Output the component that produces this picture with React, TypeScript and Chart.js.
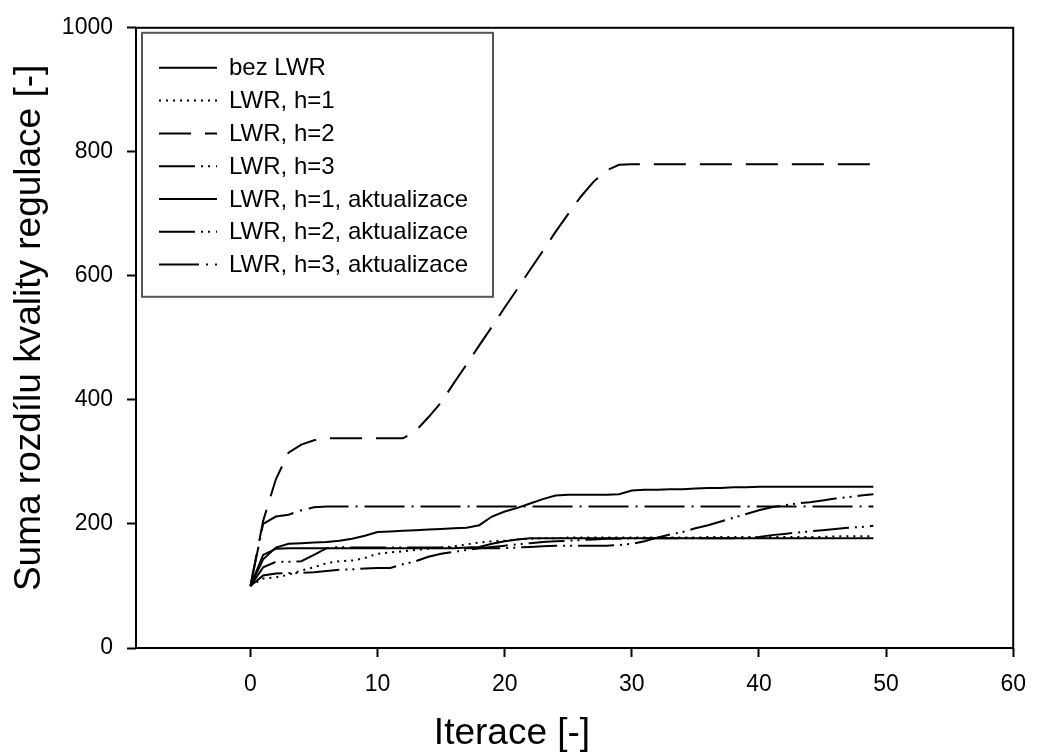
import React, { useEffect, useRef } from "react";
import { Chart, registerables } from "chart.js";

Chart.register(...registerables);

const iterations = [
  0, 1, 2, 3, 4, 5, 6, 7, 8, 9, 10, 11, 12, 13, 14, 15, 16, 17, 18, 19, 20, 21, 22, 23, 24,
  25, 26, 27, 28, 29, 30, 31, 32, 33, 34, 35, 36, 37, 38, 39, 40, 41, 42, 43, 44, 45, 46, 47, 48, 49,
];

const bezLWR = [
  100, 143, 162, 168, 169, 170, 171, 173, 176, 181, 187, 188, 189, 190, 191, 192, 193, 194, 198, 212,
  220, 226, 233, 240, 246, 247, 247, 247, 247, 248, 254, 255, 255, 256, 256, 257, 258, 258, 259, 259,
  260, 260, 260, 260, 260, 260, 260, 260, 260, 260,
];
const lwrH1 = [
  100, 112, 114, 118, 125, 130, 137, 140, 141, 145, 152, 154, 156, 158, 160, 162, 164, 167, 170, 172,
  173, 175, 176, 177, 177, 178, 178, 178, 178, 178, 178, 178, 178, 178, 178, 178, 179, 179, 179, 179,
  179, 179, 179, 179, 179, 179, 180, 180, 180, 180,
];
const lwrH2 = [
  100, 205, 272, 315, 328, 335, 338, 338, 338, 338, 338, 338, 338, 350, 372, 396, 427, 457, 488, 518,
  549, 579, 610, 640, 671, 700, 728, 752, 770, 779, 780, 780, 780, 780, 780, 780, 780, 780, 780, 780,
  780, 780, 780, 780, 780, 780, 780, 780, 780, 780,
];
const lwrH3 = [
  100, 130, 139, 139, 140, 150, 161, 163, 162, 162, 162, 162, 162, 162, 162, 162, 162, 161, 161, 161,
  161, 162, 163, 164, 165, 165, 165, 165, 165, 166, 168, 172, 178, 183, 187, 193, 198, 204, 210, 216,
  222, 227, 230, 233, 235, 238, 241, 243, 246, 248,
];
const lwrH1Akt = [
  100, 150, 160, 161, 161, 161, 161, 161, 161, 161, 161, 161, 161, 161, 161, 161, 161, 162, 163, 168,
  172, 175, 177, 177, 177, 177, 177, 177, 177, 177, 177, 177, 177, 177, 177, 177, 177, 177, 177, 177,
  177, 177, 177, 177, 177, 177, 177, 177, 177, 177,
];
const lwrH2Akt = [
  100, 117, 120, 121, 121, 122, 124, 126, 127, 128, 129, 129, 135, 140, 147, 152, 155, 158, 161, 163,
  165, 167, 169, 171, 172, 173, 174, 175, 176, 176, 177, 177, 177, 177, 177, 177, 177, 177, 177, 177,
  179, 182, 184, 186, 188, 190, 192, 194, 195, 197,
];
const lwrH3Akt = [
  100, 200, 212, 215, 222, 227, 228, 228, 228, 228, 228, 228, 228, 228, 228, 228, 228, 228, 228, 228,
  228, 228, 228, 228, 228, 228, 228, 228, 228, 228, 228, 228, 228, 228, 228, 228, 228, 228, 228, 228,
  228, 228, 228, 228, 228, 228, 228, 228, 228, 228,
];

const seriesLabels = [
  "bez LWR",
  "LWR, h=1",
  "LWR, h=2",
  "LWR, h=3",
  "LWR, h=1, aktualizace",
  "LWR, h=2, aktualizace",
  "LWR, h=3, aktualizace",
];
const seriesValues = [bezLWR, lwrH1, lwrH2, lwrH3, lwrH1Akt, lwrH2Akt, lwrH3Akt];

const xTicks = [0, 10, 20, 30, 40, 50, 60];
const yTicks = [0, 200, 400, 600, 800, 1000];

const xTitle = "Iterace [-]";
const yTitle = "Suma rozdílu kvality regulace [-]";

const FONT = 'Arial, "Liberation Sans", sans-serif';

const dashStyles: number[][] = [
  [],
  [2, 5],
  [32, 14],
  [36, 6, 2, 5, 2, 6],
  [],
  [36, 6, 2, 5, 2, 6],
  [40, 7, 2, 7],
];

const framePlugin = {
  id: "frame",
  afterDatasetsDraw(chart: any) {
    const { ctx, chartArea: a } = chart;
    ctx.save();
    ctx.strokeStyle = "#000";
    ctx.lineWidth = 2;
    ctx.setLineDash([]);
    ctx.strokeRect(a.left, a.top, a.right - a.left, a.bottom - a.top);
    ctx.restore();
  },
};

const axisTitlesPlugin = {
  id: "axisTitles",
  afterDraw(chart: any) {
    const { ctx, chartArea: a } = chart;
    ctx.save();
    ctx.font = `37px ${FONT}`;
    ctx.fillStyle = "#000";
    ctx.textAlign = "center";
    ctx.textBaseline = "middle";
    ctx.fillText(xTitle, a.left + 376, a.bottom + 86);
    ctx.translate(30, (a.top + a.bottom) / 2 - 10);
    ctx.rotate(-Math.PI / 2);
    ctx.fillText(yTitle, 0, 0);
    ctx.restore();
  },
};

const insetLegend = {
  id: "insetLegend",
  afterDraw(chart: any) {
    const { ctx, chartArea: a } = chart;
    const x0 = a.left + 6;
    const y0 = a.top + 5;
    const w = 351;
    const h = 264;
    ctx.save();
    ctx.fillStyle = "#fff";
    ctx.fillRect(x0, y0, w, h);
    ctx.strokeStyle = "#555";
    ctx.lineWidth = 2;
    ctx.setLineDash([]);
    ctx.strokeRect(x0, y0, w, h);
    ctx.font = `24px ${FONT}`;
    ctx.textBaseline = "middle";
    chart.data.datasets.forEach((ds: any, i: number) => {
      const cy = y0 + 35 + i * 32.8;
      ctx.beginPath();
      ctx.setLineDash(ds.borderDash || []);
      ctx.lineWidth = ds.borderWidth;
      ctx.strokeStyle = "#000";
      ctx.moveTo(x0 + 17, cy);
      ctx.lineTo(x0 + 75, cy);
      ctx.stroke();
      ctx.setLineDash([]);
      ctx.fillStyle = "#000";
      ctx.fillText(ds.label, x0 + 87, cy + 1);
    });
    ctx.restore();
  },
};

export default function App() {
  const canvasRef = useRef<HTMLCanvasElement | null>(null);

  useEffect(() => {
    if (!canvasRef.current) return;
    const datasets = seriesLabels.map((label, i) => ({
      label,
      data: iterations.map((x, j) => ({ x, y: seriesValues[i][j] })),
      borderColor: "#000",
      backgroundColor: "#000",
      borderWidth: 2,
      borderDash: dashStyles[i],
      pointRadius: 0,
      tension: 0,
      fill: false,
    }));

    const chart = new Chart(canvasRef.current, {
      type: "line",
      data: { datasets },
      options: {
        animation: false,
        responsive: true,
        maintainAspectRatio: false,
        layout: { padding: { left: 0, top: 27, right: 17, bottom: 0 } },
        plugins: {
          legend: { display: false },
          tooltip: { enabled: false },
        },
        scales: {
          x: {
            type: "linear",
            min: -9,
            max: 60,
            afterBuildTicks: (scale: any) => {
              scale.ticks = xTicks.map((v) => ({ value: v }));
            },
            afterFit: (scale: any) => {
              scale.height = 106;
            },
            border: { display: false },
            grid: {
              drawOnChartArea: false,
              drawTicks: true,
              tickLength: 9,
              tickWidth: 2,
              tickColor: "#000",
            },
            ticks: {
              color: "#000",
              font: { family: FONT, size: 23 },
              padding: 14,
              maxRotation: 0,
              callback: (v: any) => String(v),
            },
          },
          y: {
            type: "linear",
            min: 0,
            max: 1000,
            afterBuildTicks: (scale: any) => {
              scale.ticks = yTicks.map((v) => ({ value: v }));
            },
            afterFit: (scale: any) => {
              scale.width = 136;
            },
            border: { display: false },
            grid: {
              drawOnChartArea: false,
              drawTicks: true,
              tickLength: 9,
              tickWidth: 2,
              tickColor: "#000",
            },
            ticks: {
              color: "#000",
              font: { family: FONT, size: 23 },
              padding: 14,
              callback: (v: any) => String(v),
            },
          },
        },
      },
      plugins: [framePlugin, insetLegend, axisTitlesPlugin],
    });
    return () => chart.destroy();
  }, []);

  return (
    <div style={{ position: "fixed", left: 0, top: 0, width: 1040, height: 754, background: "#fff" }}>
      <canvas ref={canvasRef} />
    </div>
  );
}
